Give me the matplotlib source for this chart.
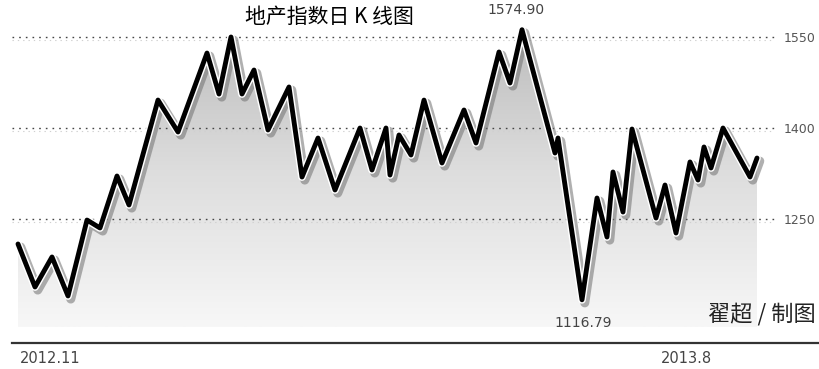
import numpy as np
import matplotlib
matplotlib.use("Agg")
import matplotlib.pyplot as plt
import matplotlib.patheffects as pe
from matplotlib.colors import LinearSegmentedColormap
from matplotlib.lines import Line2D

plt.rcParams['font.family'] = ['Noto Sans CJK SC', 'DejaVu Sans']

# ===== data =====
t = [18, 35, 52, 68, 87, 100, 117, 129, 158, 178, 207, 219, 231, 242, 254, 268,
     289, 302, 318, 335, 360, 372, 386, 390, 399, 411, 424, 442, 464, 476, 499,
     510, 522, 555, 558, 582, 597, 607, 613, 623, 632, 656, 665, 676, 690, 698,
     704, 711, 723, 750, 757]
index_val = [1208.8, 1137.9, 1187.4, 1123.1, 1248.3, 1235.2, 1320.9, 1273.1, 1446.1,
             1393.4, 1523.6, 1456.0, 1550.0, 1456.0, 1495.6, 1396.7, 1467.6, 1319.2,
             1383.5, 1297.8, 1400.0, 1330.8, 1400.0, 1322.5, 1388.5, 1355.5, 1446.0,
             1342.3, 1429.7, 1375.3, 1525.3, 1474.2, 1562.0, 1358.8, 1383.5, 1116.79,
             1284.6, 1220.3, 1327.5, 1261.5, 1398.3, 1251.6, 1306.0, 1226.9, 1344.0,
             1314.3, 1368.7, 1334.1, 1400.0, 1319.2, 1350.5]
y_ticks = [1250, 1400, 1550]
x_ticks = [50, 686]
x_labels = ['2012.11', '2013.8']
high_label = '1574.90'
low_label = '1116.79'

t = np.array(t, dtype=float)
v = np.array(index_val)

# ===== figure =====
W, H = 819, 369
fig = plt.figure(figsize=(W / 100, H / 100), dpi=100)
ax = fig.add_axes([12 / W, (H - 343) / H, (775 - 12) / W, 343 / H])
ax.set_xlim(12, 775)
ax.set_ylim(1045.6, 1611.0)

# gradient fill under the line
base = 1072
poly = ax.fill_between(t, v, base, color='none', lw=0)
grad = np.linspace(0, 1, 256).reshape(-1, 1)
cmap = LinearSegmentedColormap.from_list('g', ['#f7f7f7', '#dddddd', '#b8b8b8'])
img = ax.imshow(grad, cmap=cmap, aspect='auto', origin='lower',
                extent=[t[0] - 6, t[-1], base, 1590], zorder=1)
img.set_clip_path(poly.get_paths()[0], transform=ax.transData)

# gridlines (dotted, with a faint second row under each)
for yv in y_ticks:
    ax.axhline(yv, color='#444444', lw=1.0, dashes=(1.2, 3.6), zorder=2)
    ax.axhline(yv - 5, color='#d0d0d0', lw=0.8, dashes=(1.2, 3.6), zorder=2)

# the index line: soft shadow, white outline, black core
ax.plot(t, v, color='black', lw=3.5, solid_joinstyle='round',
        solid_capstyle='round', zorder=5,
        path_effects=[pe.SimpleLineShadow(offset=(2.0, -2.2), shadow_color='#707070',
                                          alpha=0.55, linewidth=6.5),
                      pe.Stroke(linewidth=5.6, foreground='white'),
                      pe.Normal()])

# axes style
for s in ['top', 'left', 'right', 'bottom']:
    ax.spines[s].set_visible(False)
# bottom rule runs to the right edge of the picture
fig.add_artist(Line2D([12 / W, 1.0], [(H - 343) / H] * 2, color='#333333', lw=1.6))

ax.yaxis.tick_right()
ax.set_yticks(y_ticks)
ax.set_yticklabels([str(y) for y in y_ticks], family='DejaVu Sans', fontsize=9,
                   color='#555555')
ax.tick_params(axis='y', length=0, pad=6)
ax.set_xticks(x_ticks)
ax.set_xticklabels(x_labels, family='DejaVu Sans', fontsize=10.5, color='#444444')
ax.tick_params(axis='x', length=0, pad=6)

# texts
fig.text(329 / W, 1 - 17 / H, '地产指数日 K 线图', ha='center', va='center',
         fontsize=15, color='black')
fig.text(516 / W, 1 - 10 / H, high_label, ha='center', va='center', fontsize=10,
         color='#444444', family='DejaVu Sans')
fig.text(583 / W, 1 - 323 / H, low_label, ha='center', va='center', fontsize=10,
         color='#444444', family='DejaVu Sans')
fig.text(762 / W, 1 - 314 / H, '翟超 / 制图', ha='center', va='center',
         fontsize=16, color='#222222')

fig.savefig('out.png', dpi=100)
